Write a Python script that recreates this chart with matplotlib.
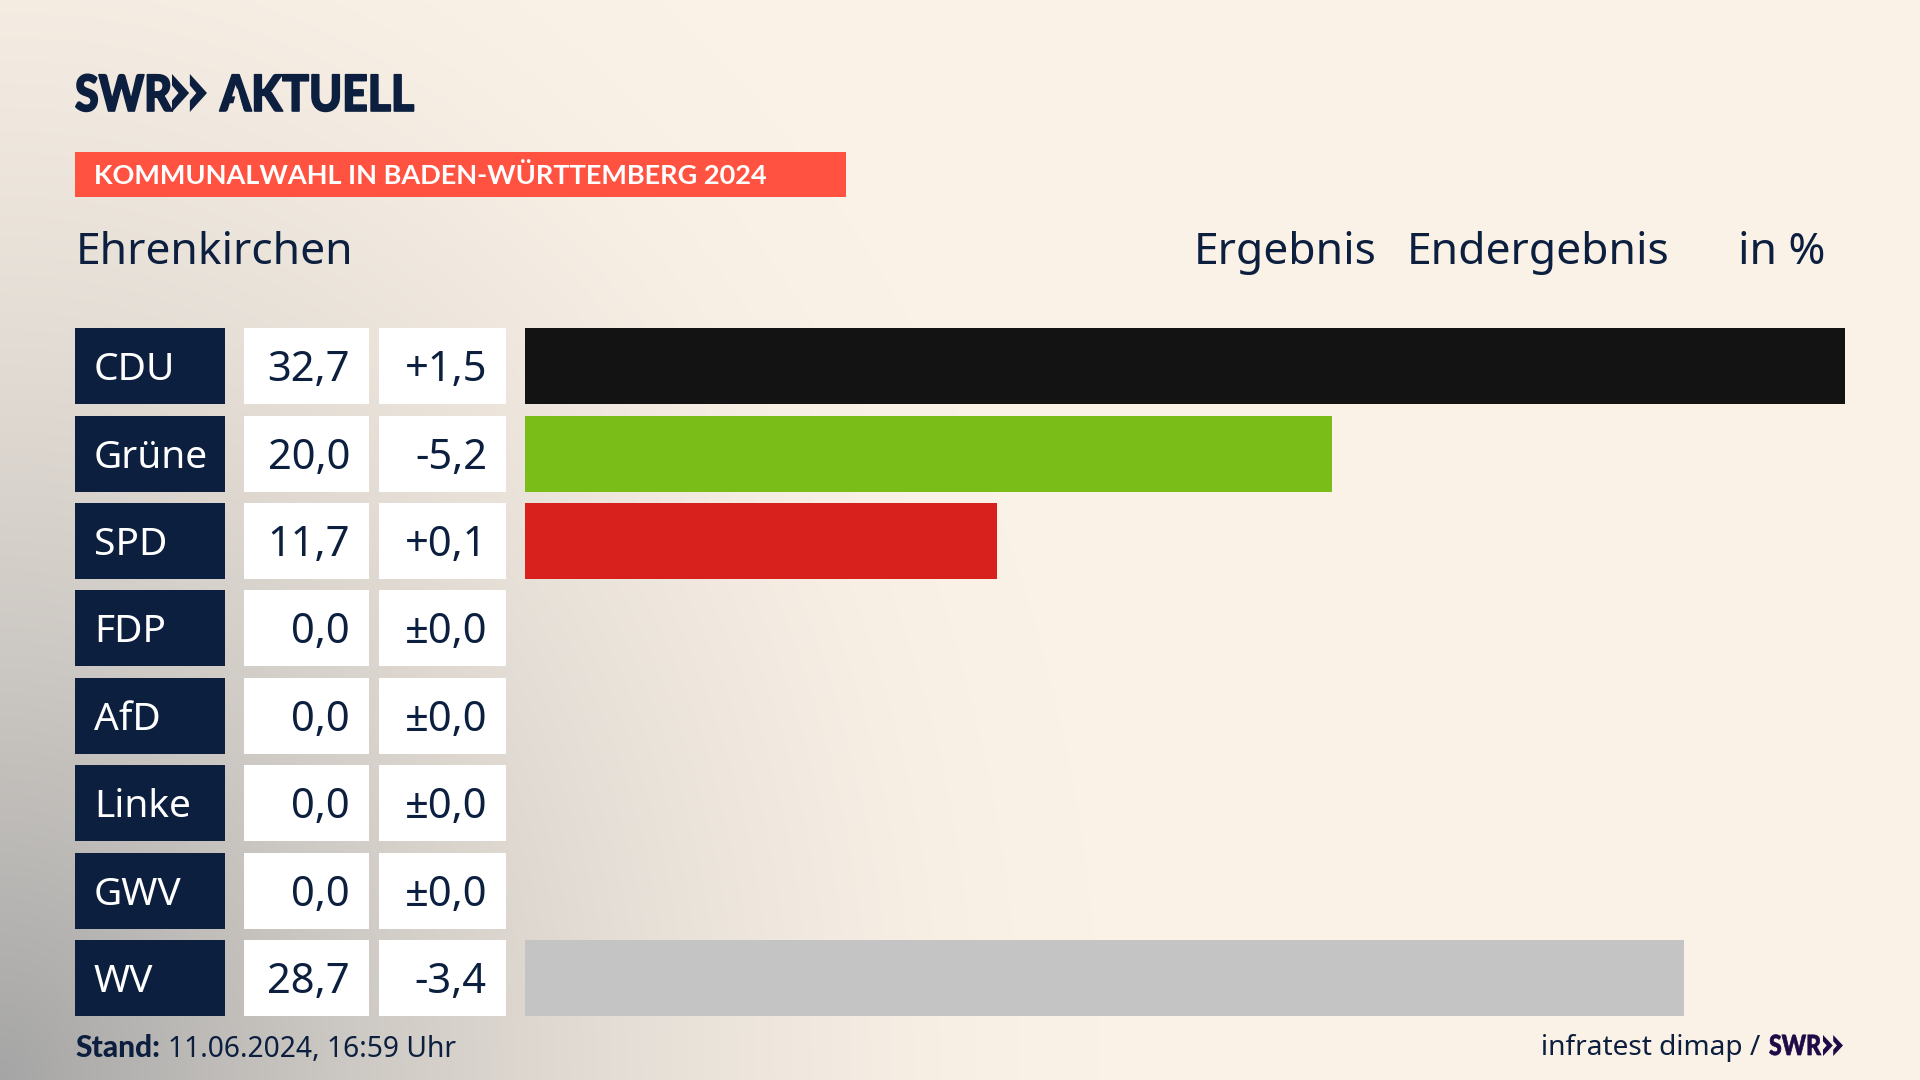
import numpy as np
import matplotlib
matplotlib.use("Agg")
import matplotlib.pyplot as plt
from matplotlib.patches import Polygon, Rectangle
from matplotlib.patheffects import AbstractPathEffect
from matplotlib.transforms import Affine2D

parties = ["CDU", "Grüne", "SPD", "FDP", "AfD", "Linke", "GWV", "WV"]
results = [32.7, 20.0, 11.7, 0.0, 0.0, 0.0, 0.0, 28.7]
changes = [1.5, -5.2, 0.1, 0.0, 0.0, 0.0, 0.0, -3.4]
bar_colors = ["#131313", "#7ABD19", "#D8201C", "#F4E000", "#009EE0", "#BE3075", "#888888", "#C4C4C4"]

NAVY = "#0C1F3F"
CREAM = np.array([251, 242, 231]) / 255
GREY = np.array([165, 165, 165]) / 255
W, H = 1920, 1080

# pixel layout of the table
ROW_TOP = 328.15
ROW_H = 76
ROW_STEP = (940 - 328) / 7
ROW_LAST = ROW_TOP + 7 * ROW_STEP
BAR_LEFT = 525
BAR_RIGHT = 1845

LOGO_FONT = "Lato"
BOLD_FONT = "Lato"
FONT = "Noto Sans"


class Squeeze(AbstractPathEffect):
    # the logo lettering is condensed and heavy, no installed font has that cut
    def __init__(self, x0, sx, lw):
        super().__init__()
        self.x0 = x0
        self.sx = sx
        self.lw = lw

    def draw_path(self, renderer, gc, tpath, affine, rgbFace=None):
        squeeze = Affine2D().translate(-self.x0, 0).scale(self.sx, 1).translate(self.x0, 0)
        gc0 = renderer.new_gc()
        gc0.copy_properties(gc)
        gc0.set_linewidth(self.lw)
        gc0.set_foreground(rgbFace)
        renderer.draw_path(gc0, tpath, affine + squeeze, rgbFace)
        gc0.restore()


def fmt_value(v):
    return f"{v:.1f}".replace(".", ",")


def fmt_change(v):
    if v == 0:
        return "±0,0"
    return f"{v:+.1f}".replace(".", ",")


def chevrons(ax, x, top, bottom, width, color):
    # the two arrows of the SWR logo
    mid = (top + bottom) / 2
    h = (bottom - top) / 2
    w = width * 0.49
    for off in (0, width - w):
        pts = [(x + off, top), (x + off + w, mid), (x + off, bottom),
               (x + off, mid + h * 0.4), (x + off + w * 0.38, mid), (x + off, mid - h * 0.4)]
        ax.add_patch(Polygon(pts, closed=True, color=color, lw=0))


def logo_text(ax, x, y, s, size, sx, lw, color):
    ax.text(x, y, s, family=LOGO_FONT, weight="black", fontsize=size, color=color, va="baseline",
            path_effects=[Squeeze(x, sx, lw)])


fig = plt.figure(figsize=(W / 100, H / 100), dpi=100)
ax = fig.add_axes([0, 0, 1, 1])
ax.set_xlim(0, W)
ax.set_ylim(H, 0)
ax.axis("off")

# background: cream with a grey glow from the lower left corner
yy, xx = np.mgrid[0:H, 0:W]
dist = np.sqrt((xx / 1100) ** 2 + ((H - yy) / 1350) ** 2)
glow = np.clip(1 - dist, 0, 1) ** 1.6
bg = CREAM[None, None, :] * (1 - glow[..., None]) + GREY[None, None, :] * glow[..., None]
ax.imshow(bg, extent=(0, W, H, 0), aspect="auto", zorder=0)

# logo
logo_text(ax, 75, 111, "SWR", 36, 0.86, 1.2, NAVY)
chevrons(ax, 172, 74, 112, 35, NAVY)
logo_text(ax, 220, 111, "AKTUELL", 36, 0.89, 1.2, NAVY)
# the A of the logo has no crossbar
ax.add_patch(Polygon([(231, 112), (244, 112), (237.5, 88)], closed=True, color=bg[100, 240], lw=0, zorder=5))

# red title strip
ax.add_patch(Rectangle((75, 152), 771, 45, color="#FF5240", lw=0))
ax.text(94, 184, "KOMMUNALWAHL IN BADEN-WÜRTTEMBERG 2024", family=BOLD_FONT, weight="bold",
        fontsize=19.5, color="white", va="baseline")

# header line
ax.text(76, 264, "Ehrenkirchen", family=FONT, fontsize=32, color=NAVY, va="baseline")
ax.text(1194, 264, "Ergebnis", family=FONT, fontsize=32, color=NAVY, va="baseline")
ax.text(1407, 264, "Endergebnis", family=FONT, fontsize=32, color=NAVY, va="baseline")
ax.text(1825, 264, "in %", family=FONT, fontsize=32, color=NAVY, va="baseline", ha="right")

# table cells
for i, party in enumerate(parties):
    top = ROW_TOP + i * ROW_STEP
    base = top + 53
    ax.add_patch(Rectangle((75, top), 150, ROW_H, color=NAVY, lw=0))
    ax.add_patch(Rectangle((244, top), 125, ROW_H, color="white", lw=0))
    ax.add_patch(Rectangle((379, top), 127, ROW_H, color="white", lw=0))
    ax.text(94, top + 52, party, family=FONT, fontsize=28, color="white", va="baseline")
    ax.text(350, base, fmt_value(results[i]), family=FONT, fontsize=30, color=NAVY, va="baseline", ha="right")
    ax.text(487, base, fmt_change(changes[i]), family=FONT, fontsize=30, color=NAVY, va="baseline", ha="right")

# bars
gap = (ROW_STEP - ROW_H) / 2
bar_ax = fig.add_axes([BAR_LEFT / W, 1 - (ROW_LAST + ROW_H + gap) / H,
                       (BAR_RIGHT - BAR_LEFT) / W, (ROW_LAST + ROW_H - ROW_TOP + 2 * gap) / H])
bar_ax.patch.set_alpha(0)
bar_ax.barh(range(len(parties)), results, height=ROW_H / ROW_STEP, color=bar_colors)
bar_ax.set_xlim(0, max(results))
bar_ax.set_ylim(len(parties) - 0.5, -0.5)
bar_ax.axis("off")

# footer
ax.text(75, 1057, "Stand:", family=BOLD_FONT, weight="black", fontsize=21.5, color=NAVY, va="baseline")
ax.text(168, 1057, "11.06.2024, 16:59 Uhr", family=FONT, fontsize=20.3, color=NAVY, va="baseline")
ax.text(1760, 1055, "infratest dimap /", family=FONT, fontsize=20.2, color=NAVY, va="baseline", ha="right")
logo_text(ax, 1769, 1055, "SWR", 20, 0.83, 0.5, "#1E0A46")
chevrons(ax, 1823, 1035, 1056, 20, "#1E0A46")

fig.savefig("out.png", dpi=100)
